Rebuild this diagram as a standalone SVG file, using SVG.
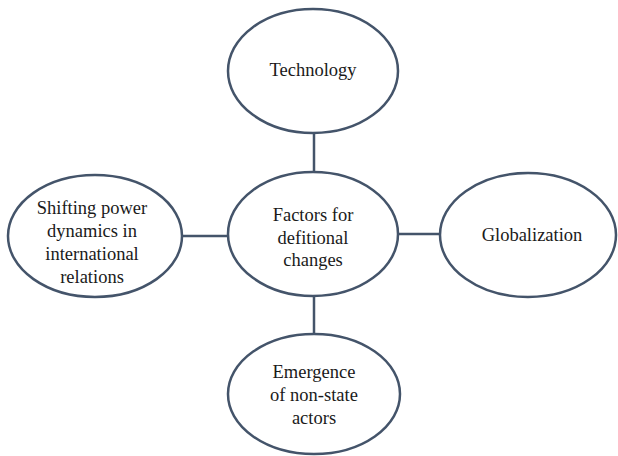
<svg xmlns="http://www.w3.org/2000/svg" width="618" height="456" viewBox="0 0 618 456">
  <rect width="618" height="456" fill="#ffffff"/>

  <!-- links from the hub to each factor -->
  <g id="connectors" stroke="#44546a" stroke-width="2.5">
    <line x1="314" y1="133" x2="314" y2="173"/>
    <line x1="183" y1="236" x2="228" y2="236"/>
    <line x1="398" y1="234" x2="439" y2="234"/>
    <line x1="314" y1="296" x2="314" y2="333"/>
  </g>

  <g id="technology">
    <ellipse cx="313" cy="71" rx="85" ry="62" fill="#ffffff" stroke="#44546a" stroke-width="2.5"/>
    <text x="313" y="76" font-family="Liberation Serif, serif" font-size="18.5" fill="#1a1a1a" text-anchor="middle">Technology</text>
  </g>

  <g id="hub">
    <ellipse cx="313" cy="234" rx="85" ry="62" fill="#ffffff" stroke="#44546a" stroke-width="2.5"/>
    <text x="313" y="221" font-family="Liberation Serif, serif" font-size="18.5" fill="#1a1a1a" text-anchor="middle">Factors for</text>
    <text x="313" y="244" font-family="Liberation Serif, serif" font-size="18.5" fill="#1a1a1a" text-anchor="middle">defitional</text>
    <text x="313" y="266" font-family="Liberation Serif, serif" font-size="18.5" fill="#1a1a1a" text-anchor="middle">changes</text>
  </g>

  <g id="power-dynamics">
    <ellipse cx="95" cy="236" rx="87" ry="61" fill="#ffffff" stroke="#44546a" stroke-width="2.5"/>
    <text x="92" y="214" font-family="Liberation Serif, serif" font-size="18.5" fill="#1a1a1a" text-anchor="middle">Shifting power</text>
    <text x="92" y="237" font-family="Liberation Serif, serif" font-size="18.5" fill="#1a1a1a" text-anchor="middle">dynamics in</text>
    <text x="92" y="260" font-family="Liberation Serif, serif" font-size="18.5" fill="#1a1a1a" text-anchor="middle">international</text>
    <text x="92" y="283" font-family="Liberation Serif, serif" font-size="18.5" fill="#1a1a1a" text-anchor="middle">relations</text>
  </g>

  <g id="globalization">
    <ellipse cx="528" cy="235" rx="88" ry="62" fill="#ffffff" stroke="#44546a" stroke-width="2.5"/>
    <text x="532" y="241" font-family="Liberation Serif, serif" font-size="18.5" fill="#1a1a1a" text-anchor="middle">Globalization</text>
  </g>

  <g id="non-state-actors">
    <ellipse cx="314" cy="394" rx="86" ry="60" fill="#ffffff" stroke="#44546a" stroke-width="2.5"/>
    <text x="314" y="378" font-family="Liberation Serif, serif" font-size="18.5" fill="#1a1a1a" text-anchor="middle">Emergence</text>
    <text x="314" y="401" font-family="Liberation Serif, serif" font-size="18.5" fill="#1a1a1a" text-anchor="middle">of non-state</text>
    <text x="314" y="424" font-family="Liberation Serif, serif" font-size="18.5" fill="#1a1a1a" text-anchor="middle">actors</text>
  </g>
</svg>
